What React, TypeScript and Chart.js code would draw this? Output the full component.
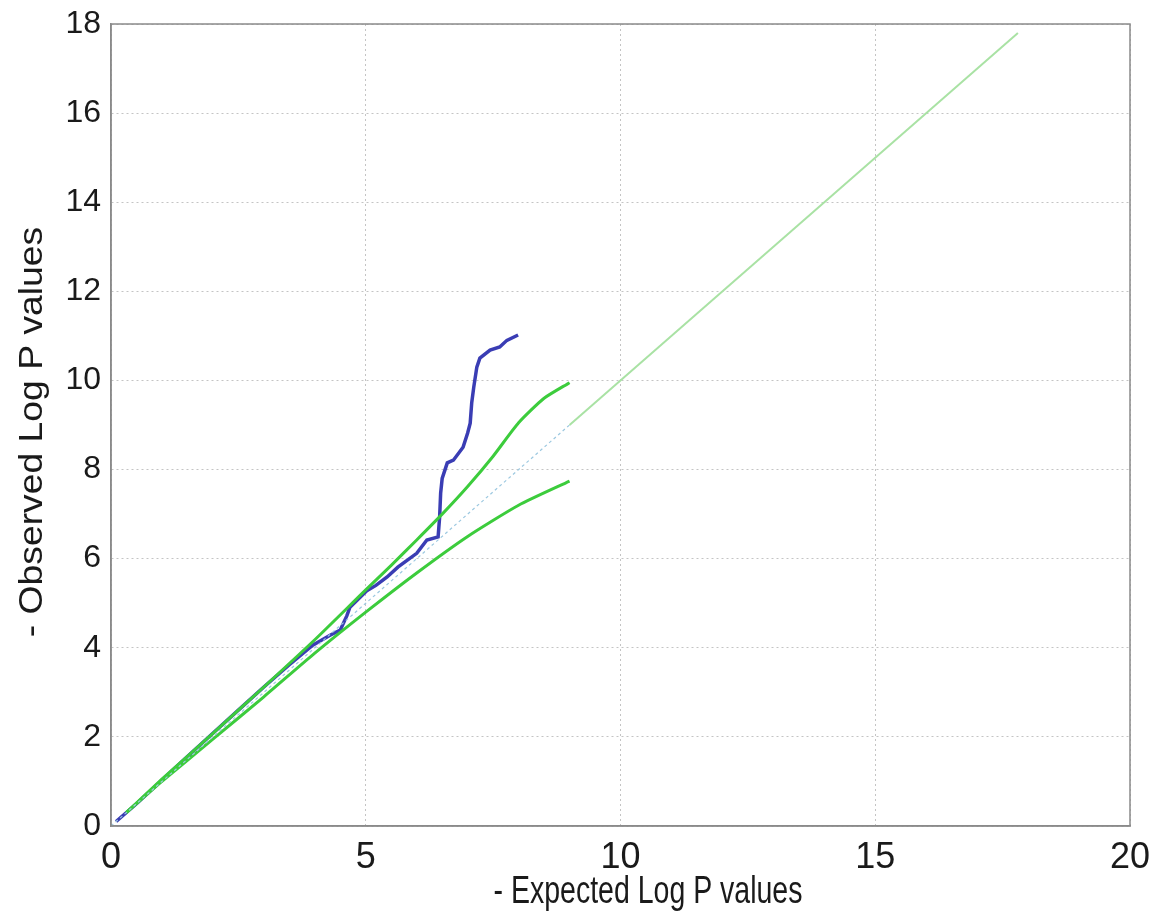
import React, { useEffect, useRef } from "react";
import { Chart, registerables } from "chart.js";

Chart.register(...registerables);

// Reference diagonal (expected = observed)
const diagX = [0, 9, 17.8];
const diagY = [0, 9, 17.8];

// Upper confidence bound
const upperX = [0.3, 1, 2, 3, 4, 5, 5.5, 6, 6.5, 7, 7.5, 8, 8.5, 9];
const upperY = [0.3, 1.05, 2.08, 3.12, 4.18, 5.3, 5.85, 6.42, 7.0, 7.62, 8.3, 9.05, 9.6, 9.95];

// Lower confidence bound
const lowerX = [0.3, 1, 2, 3, 4, 5, 6, 7, 8, 9];
const lowerY = [0.3, 1.0, 1.95, 2.9, 3.88, 4.8, 5.68, 6.5, 7.2, 7.74];

// Observed -log P values
const obsX = [0.1, 0.5, 1, 1.5, 2, 2.5, 3, 3.5, 3.96, 4.3, 4.5, 4.63, 4.69, 5.02, 5.2, 5.42, 5.63, 6.0, 6.2, 6.42, 6.45, 6.47, 6.5, 6.6, 6.72, 6.91, 7.0, 7.05, 7.08, 7.12, 7.18, 7.24, 7.44, 7.63, 7.77, 7.99];
const obsY = [0.1, 0.5, 1.03, 1.56, 2.08, 2.6, 3.12, 3.62, 4.06, 4.28, 4.4, 4.72, 4.91, 5.28, 5.4, 5.59, 5.81, 6.12, 6.42, 6.49, 6.93, 7.47, 7.8, 8.15, 8.21, 8.5, 8.82, 9.04, 9.5, 9.85, 10.3, 10.5, 10.68, 10.75, 10.9, 11.02];

const xTicks = [0, 5, 10, 15, 20];
const yTicks = [0, 2, 4, 6, 8, 10, 12, 14, 16, 18];

const xTitle = "- Expected Log P values";
const yTitle = "- Observed Log P values";

const FONT = "'Liberation Sans', Arial, sans-serif";

const pts = (xs: number[], ys: number[]) => xs.map((x, i) => ({ x, y: ys[i] }));

const decorPlugin = {
  id: "decor",
  afterDraw(chart: any) {
    const { ctx, chartArea } = chart;
    ctx.save();
    ctx.strokeStyle = "#8a8a8a";
    ctx.lineWidth = 1.5;
    ctx.strokeRect(chartArea.left, chartArea.top, chartArea.right - chartArea.left, chartArea.bottom - chartArea.top);
    ctx.restore();

    // axis titles (stretched like the reference)
    ctx.save();
    ctx.fillStyle = "#1a1a1a";
    ctx.textAlign = "center";
    ctx.textBaseline = "middle";
    ctx.font = `38px ${FONT}`;
    ctx.translate(648, 893);
    ctx.scale(0.75, 1);
    ctx.fillText(xTitle, 0, 0);
    ctx.restore();

    ctx.save();
    ctx.fillStyle = "#1a1a1a";
    ctx.textAlign = "center";
    ctx.textBaseline = "middle";
    ctx.font = `33px ${FONT}`;
    ctx.translate(33, 432);
    ctx.rotate(-Math.PI / 2);
    ctx.scale(1.13, 1);
    ctx.fillText(yTitle, 0, 0);
    ctx.restore();
  },
};

export default function App() {
  const ref = useRef<HTMLCanvasElement | null>(null);
  useEffect(() => {
    if (!ref.current) return;
    const chart = new Chart(ref.current, {
      type: "scatter",
      data: {
        datasets: [
          {
            data: pts(diagX.slice(1), diagY.slice(1)),
            showLine: true,
            borderColor: "#a9e2a4",
            borderWidth: 2,
            pointRadius: 0,
          },
          {
            data: pts(diagX.slice(0, 2), diagY.slice(0, 2)),
            showLine: true,
            borderColor: "#9cc8e0",
            borderWidth: 1.2,
            borderDash: [3, 3],
            pointRadius: 0,
          },
          {
            data: pts(lowerX, lowerY),
            showLine: true,
            borderColor: "#3ccc3c",
            borderWidth: 3,
            pointRadius: 0,
            tension: 0.2,
          },
          {
            data: pts(upperX, upperY),
            showLine: true,
            borderColor: "#3ccc3c",
            borderWidth: 3,
            pointRadius: 0,
            tension: 0.2,
          },
          {
            data: pts(obsX, obsY),
            showLine: true,
            borderColor: "#3a3db4",
            borderWidth: 3.5,
            pointRadius: 0,
          },
        ],
      },
      options: {
        animation: false,
        responsive: true,
        maintainAspectRatio: false,
        layout: { padding: { top: 24, right: 25, left: 0, bottom: 0 } },
        plugins: { legend: { display: false }, tooltip: { enabled: false } },
        scales: {
          x: {
            type: "linear",
            min: 0,
            max: 20,
            afterFit: (s: any) => { s.height = 92; s.paddingLeft = 0; s.paddingRight = 0; },
            afterBuildTicks: (s: any) => { s.ticks = xTicks.map((v) => ({ value: v })); },
            ticks: { color: "#1a1a1a", font: { family: FONT, size: 36 }, padding: 10, maxRotation: 0 },
            grid: { color: "#c4c4c4", lineWidth: 1, drawTicks: false },
            border: { display: true, color: "#8a8a8a", width: 1.5, dash: [2, 3] },
          },
          y: {
            type: "linear",
            min: 0,
            max: 18,
            afterFit: (s: any) => { s.width = 111; s.paddingTop = 0; s.paddingBottom = 0; },
            afterBuildTicks: (s: any) => { s.ticks = yTicks.map((v) => ({ value: v })); },
            ticks: { color: "#1a1a1a", font: { family: FONT, size: 32 }, padding: 10 },
            grid: { color: "#c4c4c4", lineWidth: 1, drawTicks: false },
            border: { display: true, color: "#8a8a8a", width: 1.5, dash: [2, 3] },
          },
        },
      },
      plugins: [decorPlugin],
    });
    return () => chart.destroy();
  }, []);
  return (
    <div style={{ position: "fixed", left: 0, top: 0, width: 1155, height: 918, background: "#fff" }}>
      <canvas ref={ref} />
    </div>
  );
}
